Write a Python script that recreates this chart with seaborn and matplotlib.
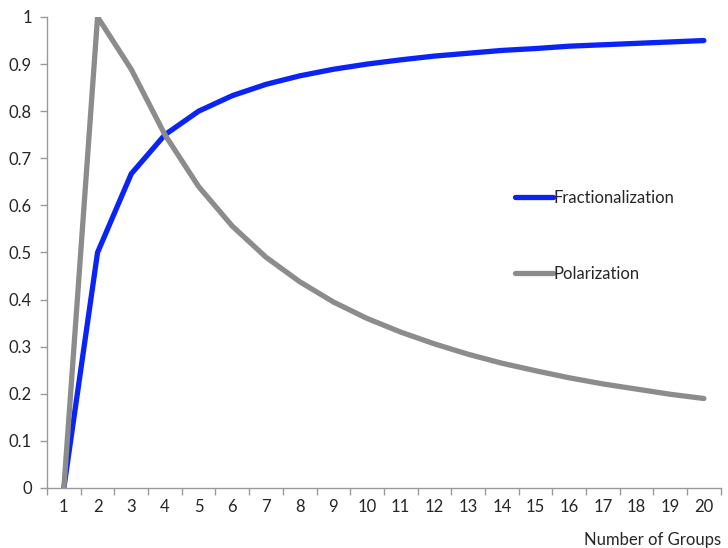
import pandas as pd
import matplotlib.pyplot as plt
import seaborn as sns
import numpy as np
from matplotlib.lines import Line2D

# Number of equal-sized groups
groups = list(range(1, 21))
fractionalization = [0, 0.5, 0.667, 0.75, 0.8, 0.833, 0.857, 0.875, 0.889, 0.9,
                     0.909, 0.917, 0.923, 0.929, 0.933, 0.938, 0.941, 0.944, 0.947, 0.95]
polarization = [0, 1.0, 0.889, 0.75, 0.64, 0.556, 0.49, 0.438, 0.395, 0.36,
                0.331, 0.306, 0.284, 0.265, 0.249, 0.234, 0.221, 0.21, 0.199, 0.19]

df = pd.DataFrame({'groups': groups * 2,
                   'value': fractionalization + polarization,
                   'series': ['Fractionalization'] * 20 + ['Polarization'] * 20})

sns.set_style('white')
plt.rcParams['font.family'] = ['Lato', 'DejaVu Sans']

fig = plt.figure(figsize=(7.28, 5.48), dpi=100)
ax = fig.add_axes([0.0646, 0.1095, 0.9254, 0.8595])

sns.lineplot(data=df, x='groups', y='value', hue='series',
             palette={'Fractionalization': '#0a24f5', 'Polarization': '#8c8c8c'},
             linewidth=3.8, ax=ax, legend=False)

ax.set_xlim(0.5, 20.5)
ax.set_ylim(0, 1)
ax.set_xticks(np.arange(0.5, 21, 1))
ax.set_xticklabels([])
ax.set_xticks(groups, minor=True)
ax.set_xticklabels([str(g) for g in groups], minor=True)
ax.tick_params(axis='x', which='major', direction='out', length=5, width=1, color='#999999', bottom=True)
ax.tick_params(axis='x', which='minor', length=0, pad=8, labelsize=12)
ax.set_yticks(np.arange(0, 1.01, 0.1))
ax.set_yticklabels(['0', '0.1', '0.2', '0.3', '0.4', '0.5', '0.6', '0.7', '0.8', '0.9', '1'])
ax.tick_params(axis='y', direction='out', length=5, width=1, color='#999999', left=True, labelsize=12, pad=6)

for s in ['top', 'right']:
    ax.spines[s].set_visible(False)
for s in ['left', 'bottom']:
    ax.spines[s].set_color('#999999')
    ax.spines[s].set_linewidth(1)

ax.set_xlabel('Number of Groups', fontsize=12, loc='right', labelpad=12)
ax.set_ylabel('')

# legend
handles = [Line2D([], [], color='#0a24f5', lw=3.8, solid_capstyle='round'),
           Line2D([], [], color='#8c8c8c', lw=3.8, solid_capstyle='round')]
ax.legend(handles, ['Fractionalization', 'Polarization'], loc='upper left',
          bbox_to_anchor=(0.672, 0.665), frameon=False, fontsize=12,
          handlelength=2.3, handletextpad=0.05, labelspacing=3.6)

plt.savefig('out.png', dpi=100)
